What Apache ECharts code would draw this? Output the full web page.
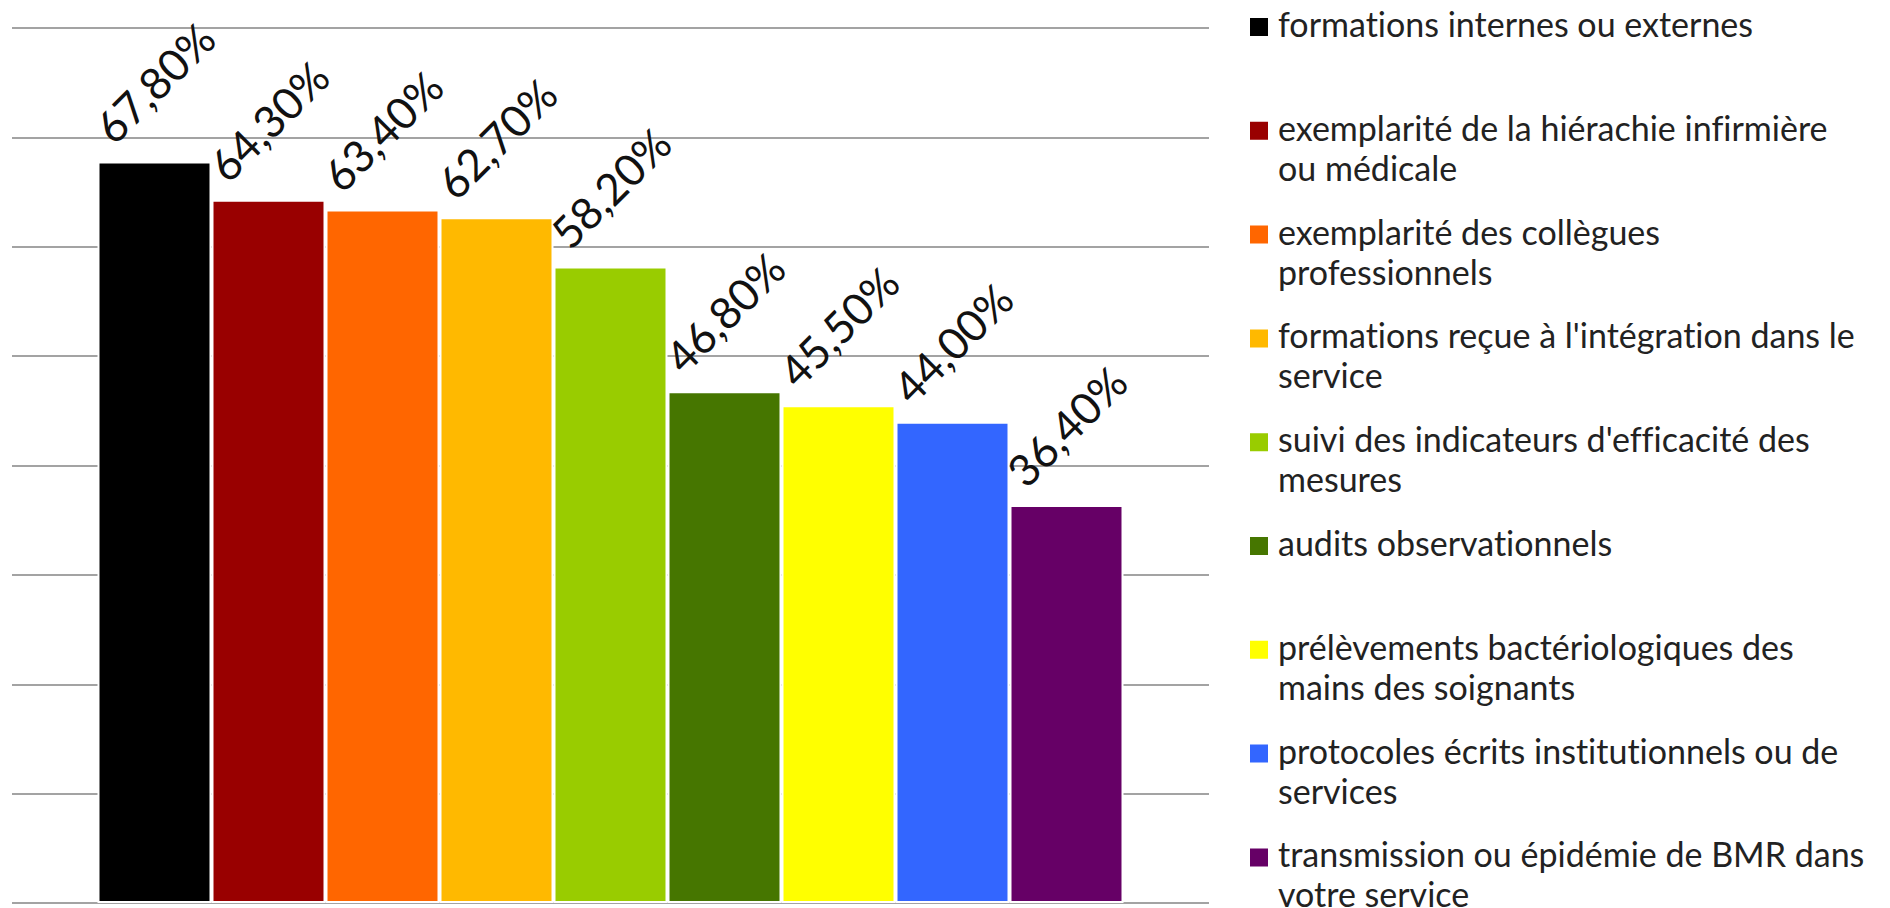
<!DOCTYPE html>
<html>
<head>
<meta charset="utf-8">
<script src="https://cdn.jsdelivr.net/npm/echarts@6/dist/echarts.min.js"></script>
<style>
  html, body { margin: 0; padding: 0; background: #ffffff; }
  #chart { width: 1890px; height: 908px; }
  #chart text { font-variant-ligatures: none !important; font-feature-settings: "liga" 0, "clig" 0 !important; }
</style>
</head>
<body>
<div id="chart"></div>
<script>
// ---- data ----
const seriesNames = [
  "formations internes ou externes",
  "exemplarité de la hiérachie infirmière\nou médicale",
  "exemplarité des collègues\nprofessionnels",
  "formations reçue à l'intégration dans le\nservice",
  "suivi des indicateurs d'efficacité des\nmesures",
  "audits observationnels",
  "prélèvements bactériologiques des\nmains des soignants",
  "protocoles écrits institutionnels ou de\nservices",
  "transmission ou épidémie de BMR dans\nvotre service"
];
const values = [67.8, 64.3, 63.4, 62.7, 58.2, 46.8, 45.5, 44.0, 36.4];
const colors = ["#000000", "#990000", "#ff6600", "#ffb900", "#99cc00", "#467600", "#ffff00", "#3366ff", "#660066"];
const yTicks = { min: 0, max: 80, interval: 10 };

// ---- layout constants ----
const FONT = "Lato, 'Open Sans', sans-serif";
const LEGEND_LH = 40;
const LEGEND_ICON_FIRST = 27;   // centre of first legend square
const LEGEND_SLOT = 103.8;
const ICON_DROP = 3.5;          // square sits slightly below the text line centre
// legend square drawn in the lower part of a taller icon box
const LEGEND_ICON = 'path://M0,0L18,0Z M0,7L18,7L18,25L0,25Z';

const chart = echarts.init(document.getElementById('chart'), null, { renderer: 'svg' });

const series = seriesNames.map((name, i) => ({
  type: 'bar',
  name: name,
  data: [values[i]],
  barGap: '0%',
  barCategoryGap: (1.5 / 10.5 * 100) + '%',
  itemStyle: { color: colors[i], borderColor: '#ffffff', borderWidth: 2 },
  label: {
    show: true,
    position: 'top',
    distance: 79,
    rotate: 45,
    align: 'center',
    verticalAlign: 'middle',
    fontFamily: FONT,
    fontSize: 44,
    color: '#111111',
    formatter: p => p.value.toFixed(2).replace('.', ',') + '%'
  },
  emphasis: { disabled: true },
  animation: false
}));

const legends = seriesNames.map((name, i) => {
  const twoLines = name.indexOf('\n') >= 0;
  const textCenter = LEGEND_ICON_FIRST + i * LEGEND_SLOT - ICON_DROP;
  return {
    data: [name],
    orient: 'vertical',
    left: 1250,
    top: textCenter - (twoLines ? LEGEND_LH * 1.5 : LEGEND_LH * 0.5),
    padding: 0,
    itemWidth: 18,
    itemHeight: 25,
    icon: LEGEND_ICON,
    selectedMode: false,
    itemStyle: { borderWidth: 0 },
    formatter: n => (n.indexOf('\n') >= 0 ? '\n' + n : n),
    textStyle: {
      fontFamily: FONT,
      fontSize: 34,
      lineHeight: LEGEND_LH,
      color: '#222222',
      padding: [0, 0, 0, 5]
    }
  };
});

chart.setOption({
  animation: false,
  backgroundColor: '#ffffff',
  grid: { left: 12, right: 1890 - 1209, top: 28, bottom: 5, containLabel: false },
  legend: legends,
  xAxis: {
    type: 'category',
    data: [''],
    axisLine: { show: false },
    axisTick: { show: false },
    axisLabel: { show: false },
    splitLine: { show: false }
  },
  yAxis: {
    type: 'value',
    min: yTicks.min,
    max: yTicks.max,
    interval: yTicks.interval,
    axisLine: { show: false },
    axisTick: { show: false },
    axisLabel: { show: false },
    splitLine: { show: true, lineStyle: { color: '#a3a3a3', width: 2 } }
  },
  series: series
});
</script>
</body>
</html>
